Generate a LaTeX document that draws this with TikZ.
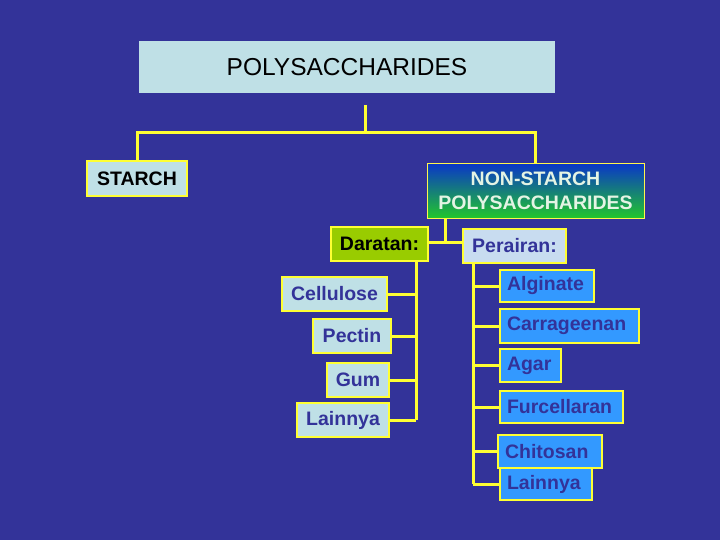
\documentclass[tikz,border=0pt]{standalone}
\usepackage{fontspec}
\setmainfont{Liberation Sans}
\definecolor{bg}{HTML}{333399}
\definecolor{lightbox}{HTML}{BFE0E6}
\definecolor{linecol}{HTML}{FFFF33}
\definecolor{navytext}{HTML}{333399}
\definecolor{skyblue}{HTML}{3399FF}
\definecolor{limegreen}{HTML}{99CC00}
\definecolor{perfill}{HTML}{C8DCF0}
\definecolor{gradtop}{HTML}{0A36C8}
\definecolor{gradbot}{HTML}{22C82A}
\definecolor{paletext}{HTML}{E4F4E4}
\tikzset{
  box/.style={rectangle, inner sep=0pt, outer sep=0pt, font=\bfseries\fontsize{19.5}{22}\selectfont},
  ybox/.style={box, draw=linecol, line width=2.5pt},
  leftchild/.style={ybox, fill=lightbox, text=navytext},
  rightchild/.style={ybox, fill=skyblue, text=navytext, align=left, text width=#1, inner xsep=7pt},
  conn/.style={draw=linecol, line width=3pt}
}
\begin{document}
\begin{tikzpicture}[x=1pt, y=-1pt]
\fill[bg] (0,0) rectangle (720,540);
\useasboundingbox (0,0) rectangle (720,540);

\node[box, fill=lightbox, minimum width=416pt, minimum height=52pt, font=\fontsize{24.5}{27}\selectfont] (poly) at (347,67) {POLYSACCHARIDES};
\node[ybox, fill=lightbox, minimum width=100pt, minimum height=35pt] (starch) at (137,178.5) {STARCH};
\node[box, top color=gradtop, bottom color=gradbot, draw=yellow!70!white, line width=1pt, minimum width=217pt, minimum height=55pt, text=paletext, align=center, font=\bfseries\fontsize{19.5}{24}\selectfont] (nonstarch) at (535.5,191) {NON-STARCH\\POLYSACCHARIDES};

\node[ybox, fill=limegreen, text=black, minimum width=97pt, minimum height=34pt] (daratan) at (379.5,244) {Daratan:};
\node[ybox, fill=perfill, text=navytext, minimum width=103pt, minimum height=34pt] (perairan) at (514.5,246) {Perairan:};

\node[leftchild, minimum width=105pt, minimum height=34pt] (cellulose) at (334.5,294) {Cellulose};
\node[leftchild, minimum width=78pt, minimum height=34pt] (pectin) at (352,336) {Pectin};
\node[leftchild, minimum width=62pt, minimum height=34pt] (gum) at (358,380) {Gum};
\node[leftchild, minimum width=92pt, minimum height=34pt] (lainA) at (343,420) {Lainnya};

\node[rightchild=80pt, minimum height=32pt] (alginate) at (547,286) {Alginate};
\node[rightchild=125pt, minimum height=34pt] (carrageenan) at (569.5,326) {Carrageenan};
\node[rightchild=47pt, minimum height=33pt] (agar) at (530.5,365.5) {Agar};
\node[rightchild=109pt, minimum height=32pt] (furcellaran) at (561.5,407) {Furcellaran};
\node[rightchild=90pt, minimum height=33pt] (chitosan) at (550,451.5) {Chitosan};
\node[rightchild=78pt, minimum height=32pt] (lainB) at (546,484) {Lainnya};

% top connectors
\coordinate (top) at (365,105);
\coordinate (bus) at (365,133);
\draw[conn] (top) -- (bus);
\draw[conn] (starch.north) |- (bus) -| (nonstarch.north);

% split to Daratan / Perairan
\coordinate (split) at (445,242);
\draw[conn] (nonstarch.south -| split) -- (split);
\draw[conn] (daratan.east |- split) -- (perairan.west |- split);

% Daratan branch
\coordinate (dbus) at (416,0);
\draw[conn] (daratan.south -| dbus) -- (lainA.east -| dbus);
\foreach \n in {cellulose,pectin,gum,lainA}
  \draw[conn] (\n.east) -- (\n.east -| dbus);

% Perairan branch
\coordinate (pbus) at (473,0);
\draw[conn] (perairan.south -| pbus) -- (lainB.west -| pbus);
\foreach \n in {alginate,carrageenan,agar,furcellaran,chitosan,lainB}
  \draw[conn] (\n.west) -- (\n.west -| pbus);
\end{tikzpicture}
\end{document}
